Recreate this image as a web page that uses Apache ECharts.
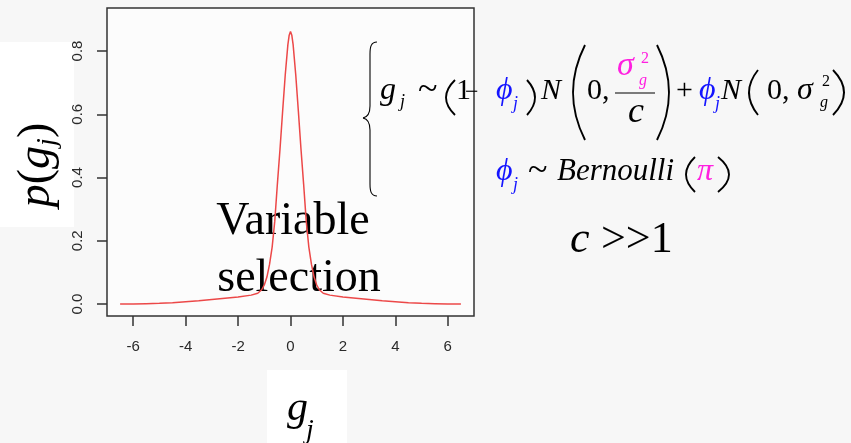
<!DOCTYPE html>
<html>
<head>
<meta charset="utf-8">
<script src="https://cdn.jsdelivr.net/npm/echarts@6/dist/echarts.min.js"></script>
<style>
html,body{margin:0;padding:0;background:#f7f7f7;}
#c{width:851px;height:443px;}
</style>
</head>
<body>
<div id="c"></div>
<script>
// ---- data ----
var gValues = [-6.5,-6.0,-5.5,-5.0,-4.5,-4.0,-3.5,-3.0,-2.5,-2.0,-1.5,-1.25,-1.1,-1.0,-0.9,-0.8,-0.7,-0.6,-0.5,-0.4,-0.3,-0.2,-0.1,-0.05,0,
               0.05,0.1,0.2,0.3,0.4,0.5,0.6,0.7,0.8,0.9,1.0,1.1,1.25,1.5,2.0,2.5,3.0,3.5,4.0,4.5,5.0,5.5,6.0,6.5];
var densityValues = [0.000,0.000,0.001,0.002,0.004,0.007,0.010,0.014,0.018,0.022,0.028,0.034,0.045,0.060,0.085,0.125,0.180,0.262,0.380,0.490,0.610,0.725,0.820,0.850,0.862,
               0.850,0.820,0.725,0.610,0.490,0.380,0.262,0.180,0.125,0.085,0.060,0.045,0.034,0.028,0.022,0.018,0.014,0.010,0.007,0.004,0.002,0.001,0.000,0.000];
var xTickValues = [-6,-4,-2,0,2,4,6];
var yTickValues = [0,0.2,0.4,0.6,0.8];
var annotationLines = ['Variable','selection'];

var serif = '"Liberation Serif","Times New Roman","DejaVu Serif",serif';
var sans = '"Liberation Sans",Arial,Helvetica,sans-serif';
var BLUE = '#1515ff', MAG = '#ff20e0';

function t(str, x, baseline, size, opt) {
  opt = opt || {};
  return {
    type: 'text', z: 20,
    x: x, y: baseline - 0.34 * size,
    style: {
      text: str, fill: opt.color || '#000',
      font: (opt.italic ? 'italic ' : '') + size + 'px ' + serif,
      align: opt.align || 'left', verticalAlign: 'middle'
    }
  };
}
function paren(x0, x1, y0, y1, left) {
  var ym = (y0 + y1) / 2;
  var xe = left ? x1 : x0;
  var xm = left ? x0 + 1 : x1 - 1;
  return { type: 'bezierCurve', z: 20,
    shape: { x1: xe, y1: y0, x2: xe, y2: y1, cpx1: 2 * xm - xe, cpy1: ym },
    style: { fill: null, stroke: '#000', lineWidth: 1.9 } };
}
function bez(a, b, c, d, e, f, g, h) {
  return { type: 'bezierCurve', z: 20, shape: { x1: a, y1: b, cpx1: c, cpy1: d, cpx2: e, cpy2: f, x2: g, y2: h },
    style: { fill: null, stroke: '#000', lineWidth: 1.1 } };
}
function seg(a, b, c, d, w) {
  return { type: 'line', z: 20, shape: { x1: a, y1: b, x2: c, y2: d }, style: { stroke: '#000', lineWidth: w || 1.1 } };
}

var graphics = [
  { type: 'rect', z: 0, shape: { x: 0, y: 42, width: 74, height: 185 }, style: { fill: '#ffffff' } },
  { type: 'rect', z: 0, shape: { x: 267, y: 370, width: 80, height: 73 }, style: { fill: '#ffffff' } },
  {
    type: 'text', z: 20, x: 37, y: 165, rotation: Math.PI / 2,
    style: {
      text: '{i|p}({i|g}{s|j})', font: '46px ' + serif, fill: '#000',
      align: 'center', verticalAlign: 'middle',
      rich: {
        i: { font: 'italic 46px ' + serif, fill: '#000' },
        s: { font: 'italic 28px ' + serif, fill: '#000', padding: [22, 0, 0, 0] }
      }
    }
  },
  t('g', 287, 423, 42, { italic: true }),
  t('j', 306, 440, 28, { italic: true }),
  { type: 'text', z: 1, x: 293, y: 238 - 0.34 * 46, style: { text: annotationLines[0], font: '46px ' + serif, fill: '#000', align: 'center', verticalAlign: 'middle' } },
  { type: 'text', z: 1, x: 299, y: 295 - 0.34 * 46, style: { text: annotationLines[1], font: '46px ' + serif, fill: '#000', align: 'center', verticalAlign: 'middle' } },
  // brace
  bez(377, 42, 371, 42, 370, 47, 370, 54),
  seg(370, 54, 370, 106),
  bez(370, 106, 370, 113, 368, 117, 363, 118),
  bez(363, 118, 368, 119, 370, 123, 370, 130),
  seg(370, 130, 370, 184),
  bez(370, 184, 370, 191, 371, 196, 377, 196),
  // line 1
  t('g', 380, 101, 32, { italic: true }),
  t('j', 400, 108, 18, { italic: true }),
  t('~', 418, 103, 36),
  paren(445, 455, 80, 115, true),
  t('1', 456, 101, 30),
  t('\u2212', 465, 101, 24),
  t('\u03D5', 496, 101, 32, { italic: true, color: BLUE }),
  t('j', 513, 110, 18, { italic: true, color: BLUE }),
  paren(527, 536, 80, 115, false),
  t('N', 541, 101, 30, { italic: true }),
  paren(572, 585, 45, 140, true),
  t('0,', 587, 101, 30),
  t('\u03C3', 617, 78, 34, { italic: true, color: MAG }),
  t('2', 641, 64, 16, { color: MAG }),
  t('g', 639, 86, 16, { italic: true, color: MAG }),
  seg(615, 93, 655, 93, 1.2),
  t('c', 628, 125, 36, { italic: true }),
  paren(657, 670, 45, 140, false),
  t('+', 676, 101, 30),
  t('\u03D5', 699, 101, 32, { italic: true, color: BLUE }),
  t('j', 715, 110, 18, { italic: true, color: BLUE }),
  t('N', 721, 101, 30, { italic: true }),
  paren(748, 758, 70, 115, true),
  t('0,', 767, 101, 30),
  t('\u03C3', 797, 101, 32, { italic: true }),
  t('2', 822, 87, 16),
  t('g', 820, 108, 16, { italic: true }),
  paren(833, 845, 70, 115, false),
  // line 2
  t('\u03D5', 496, 182, 32, { italic: true, color: BLUE }),
  t('j', 513, 191, 18, { italic: true, color: BLUE }),
  t('~', 528, 184, 36),
  t('Bernoulli', 557, 182, 31, { italic: true }),
  paren(685, 695, 157, 192, true),
  t('\u03C0', 697, 182, 32, { italic: true, color: MAG }),
  paren(718, 730, 157, 192, false),
  // line 3
  t('c', 570, 255, 44, { italic: true }),
  t('>>1', 601, 255, 44)
];

var chart = echarts.init(document.getElementById('c'), null, { renderer: 'canvas' });
chart.setOption({
  backgroundColor: '#f7f7f7',
  animation: false,
  grid: {
    left: 107, top: 8, right: 377, bottom: 127,
    show: true, backgroundColor: '#fcfcfc', borderColor: '#333', borderWidth: 1.5
  },
  xAxis: {
    type: 'value', min: -7, max: 7,
    axisLine: { show: false, onZero: false },
    splitLine: { show: false },
    axisTick: { show: true, length: 10, customValues: xTickValues, lineStyle: { color: '#333', width: 1.5 } },
    axisLabel: { customValues: xTickValues, margin: 23, color: '#2a2a2a', fontSize: 15, fontFamily: sans }
  },
  yAxis: {
    type: 'value', min: -0.038, max: 0.936,
    axisLine: { show: false, onZero: false },
    splitLine: { show: false },
    axisTick: { show: true, length: 10, customValues: yTickValues, lineStyle: { color: '#333', width: 1.5 } },
    axisLabel: { customValues: yTickValues, rotate: 90, margin: 22, color: '#2a2a2a', fontSize: 15, fontFamily: sans,
                 formatter: function (v) { return v.toFixed(1); } }
  },
  series: [{
    type: 'line', z: 2,
    data: gValues.map(function (g, i) { return [g, densityValues[i]]; }),
    showSymbol: false, smooth: false,
    lineStyle: { color: '#ec4848', width: 1.5 }
  }],
  graphic: graphics
});
</script>
</body>
</html>
